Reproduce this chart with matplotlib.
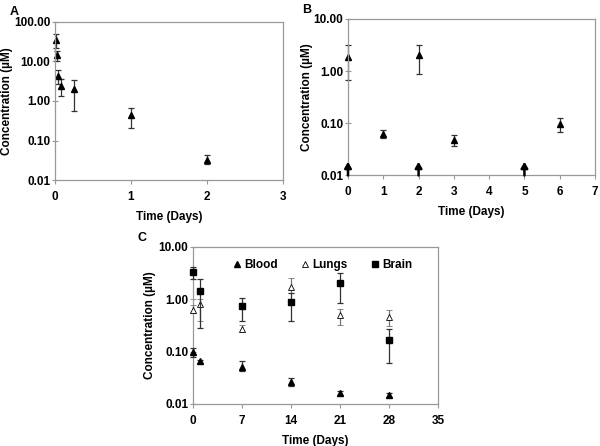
import matplotlib.pyplot as plt
from matplotlib.ticker import FixedLocator, NullLocator

plt.rcParams['font.family'] = ['Liberation Sans', 'DejaVu Sans']
plt.rcParams['font.weight'] = 'bold'

# panel A: single dose
a_t = [0.01, 0.02, 0.04, 0.08, 0.25, 1, 2]
a_c = [35.6, 14.3, 4.4, 2.43, 2.0, 0.45, 0.033]
a_lo = [21.9, 10.0, 2.7, 1.3, 0.56, 0.21, 0.025]
a_hi = [49.6, 18.7, 6.2, 3.6, 3.4, 0.66, 0.044]

# panel B: repeated dosing
b_t = [0, 1, 2, 3, 6]
b_c = [1.89, 0.061, 2.03, 0.047, 0.094]
b_lo = [0.67, 0.052, 0.87, 0.036, 0.068]
b_hi = [3.16, 0.075, 3.16, 0.060, 0.123]
dose_days = [0, 2, 5]

# panel C: tissues
c_t = [0, 1, 7, 14, 21, 28]
blood = [0.10, 0.065, 0.052, 0.026, 0.016, 0.0146]
blood_lo = [0.08, 0.061, 0.042, 0.022, 0.0146, 0.0135]
blood_hi = [0.12, 0.069, 0.065, 0.031, 0.018, 0.0159]
lungs = [0.63, 0.80, 0.27, 1.69, 0.50, 0.45]
lungs_lo = [0.55, 0.38, 0.235, 1.32, 0.33, 0.31]
lungs_hi = [0.79, 1.0, 0.32, 2.6, 0.65, 0.62]
brain = [3.4, 1.45, 0.74, 0.87, 2.06, 0.168]
brain_lo = [2.5, 0.28, 0.385, 0.39, 0.84, 0.06]
brain_hi = [4.2, 2.5, 1.04, 1.32, 3.25, 0.27]


def err(v, lo, hi):
    return [[a - b for a, b in zip(v, lo)], [b - a for a, b in zip(v, hi)]]


def plot_err(ax, x, y, lo, hi, **kw):
    c = ax.errorbar(x, y, yerr=err(y, lo, hi), elinewidth=0.9, capsize=2.5, capthick=0.9, **kw)
    for art in c.get_children():
        art.set_clip_on(False)
    return c


def style(ax, ymin, ymax, xticks, ylab_x):
    ax.set_yscale('log')
    ax.set_ylim(ymin, ymax)
    ax.set_xlim(xticks[0], xticks[-1])
    yt = []
    v = ymin
    while v <= ymax * 1.01:
        yt.append(v)
        v *= 10
    ax.yaxis.set_major_locator(FixedLocator(yt))
    ax.yaxis.set_minor_locator(NullLocator())
    ax.set_yticklabels(['%.2f' % t for t in yt])
    ax.set_xticks(xticks)
    ax.set_xticklabels([str(t) for t in xticks])
    for s in ax.spines.values():
        s.set_color('#999999')
        s.set_linewidth(0.9)
    ax.tick_params(axis='y', direction='inout', length=5, color='#999999', labelsize=8.5, pad=1)
    ax.tick_params(axis='x', direction='out', length=3, color='#999999', labelsize=8.5, pad=5)
    for lab in ax.get_xticklabels() + ax.get_yticklabels():
        lab.set_fontweight('bold')
    ax.set_ylabel('Concentration (\u00b5M)', fontsize=8.5, fontweight='bold')
    ax.yaxis.set_label_coords(ylab_x, 0.5)
    ax.set_xlabel('Time (Days)', fontsize=8.5, fontweight='bold', labelpad=6)


fig = plt.figure(figsize=(6, 4.46), dpi=100)

axA = fig.add_axes([0.0917, 0.5964, 0.38, 0.3543])
plot_err(axA, a_t, a_c, a_lo, a_hi, fmt='^', color='k', ms=5, ecolor='#333333')
style(axA, 0.01, 100, [0, 1, 2, 3], -0.185)

axB = fig.add_axes([0.58, 0.6076, 0.4117, 0.3498])
plot_err(axB, b_t, b_c, b_lo, b_hi, fmt='^', color='k', ms=5, ecolor='#333333')
for d in dose_days:
    axB.annotate('', xy=(d, 0.018), xytext=(d, 0.0098),
                 arrowprops=dict(arrowstyle='-|>,head_length=0.35,head_width=0.2', color='k',
                                 lw=1.8, mutation_scale=10, shrinkA=0, shrinkB=0),
                 annotation_clip=False, zorder=5)
style(axB, 0.01, 10, [0, 1, 2, 3, 4, 5, 6, 7], -0.14)

axC = fig.add_axes([0.3217, 0.0942, 0.4083, 0.352])
plot_err(axC, c_t, lungs, lungs_lo, lungs_hi, fmt='^', mfc='white', mec='k', mew=0.6, ms=5,
         ecolor='#777777', label='Lungs', zorder=3)
plot_err(axC, c_t, brain, brain_lo, brain_hi, fmt='s', color='k', ms=4.5,
         ecolor='#333333', label='Brain', zorder=4)
plot_err(axC, c_t, blood, blood_lo, blood_hi, fmt='^', color='k', ms=5,
         ecolor='#333333', label='Blood', zorder=4)
style(axC, 0.01, 10, [0, 7, 14, 21, 28, 35], -0.15)
h, l = axC.get_legend_handles_labels()
order = [l.index('Blood'), l.index('Lungs'), l.index('Brain')]
hs = [h[i][0] for i in order]
axC.legend(hs, [l[i] for i in order], ncol=3, loc='upper center', bbox_to_anchor=(0.53, 0.99),
           frameon=False, handlelength=0.6, handletextpad=0.3, columnspacing=2.0,
           prop={'weight': 'bold', 'size': 8.5})

fig.text(10 / 600, 1 - 12 / 446, 'A', fontsize=9, fontweight='bold', va='center')
fig.text(302 / 600, 1 - 10 / 446, 'B', fontsize=9, fontweight='bold', va='center')
fig.text(137 / 600, 1 - 238 / 446, 'C', fontsize=9, fontweight='bold', va='center')

fig.savefig('out.png', dpi=100)
